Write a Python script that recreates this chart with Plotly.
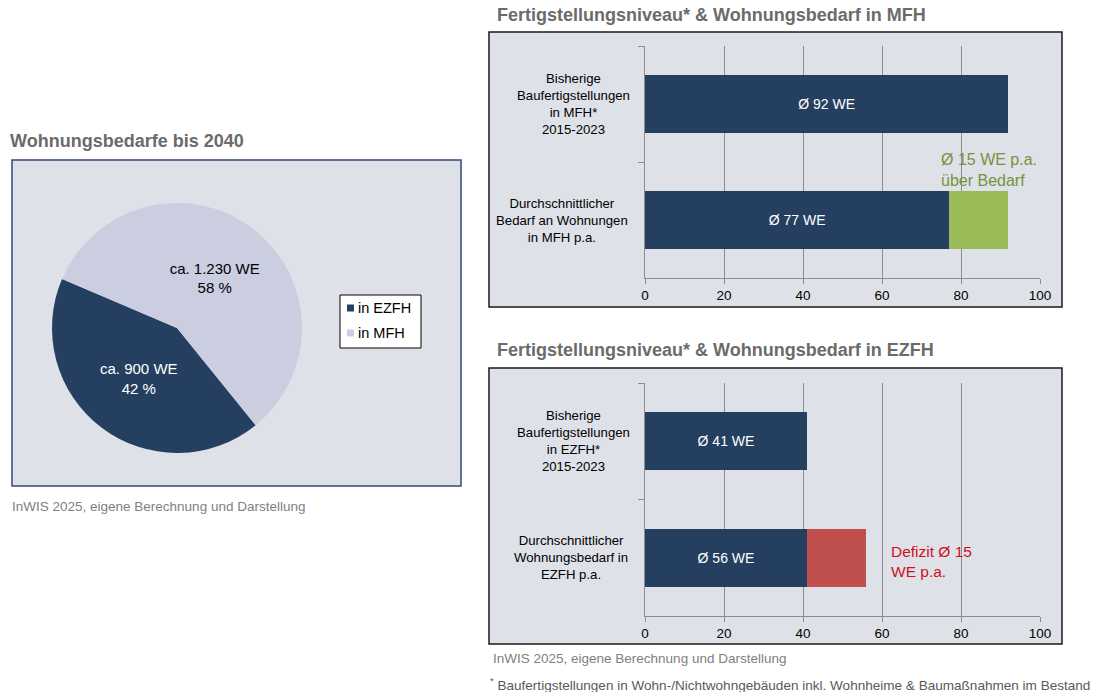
import plotly.graph_objects as go

# ---- data -------------------------------------------------------------
pie_labels = ["in EZFH", "in MFH"]
pie_values = [900, 1230]          # Wohnungsbedarf bis 2040 (WE)
pie_value_text = ["ca. 900 WE", "ca. 1.230 WE"]

bar_categories_mfh = [
    "Bisherige<br>Baufertigstellungen<br>in MFH*<br>2015-2023",
    "Durchschnittlicher<br>Bedarf an Wohnungen<br>in MFH p.a.",
]
bar_categories_ezfh = [
    "Bisherige<br>Baufertigstellungen<br>in EZFH*<br>2015-2023",
    "Durchschnittlicher<br>Wohnungsbedarf in<br>EZFH p.a.",
]
mfh_fertig = 92   # Ø Fertigstellungen MFH
mfh_bedarf = 77   # Ø Bedarf MFH
ezfh_fertig = 41  # Ø Fertigstellungen EZFH
ezfh_bedarf = 56  # Ø Bedarf EZFH

x_ticks = [0, 20, 40, 60, 80, 100]

# ---- style ------------------------------------------------------------
W, H = 1099, 692
FONT = "Arial, 'Liberation Sans', sans-serif"
NAVY = "#253f61"
LILAC = "#cbcde0"
GREEN = "#9bbb59"
RED = "#c0504d"
PANEL = "#dfe1e9"
GRID = "#8c8c8c"
PIE_COLORS = [NAVY, LILAC]


def px(x):
    return x / W


def py(y):
    return 1 - y / H


fig = go.Figure()

# ---- pie --------------------------------------------------------------
total = sum(pie_values)
pie_text = [f"{t}<br>{round(v / total * 100)} %" for t, v in zip(pie_value_text, pie_values)]
fig.add_trace(go.Pie(
    labels=pie_labels,
    values=pie_values,
    text=pie_text,
    textinfo="text",
    textposition="inside",
    insidetextorientation="horizontal",
    textfont=dict(family=FONT, size=15, color=["white", "black"]),
    marker=dict(colors=PIE_COLORS, line=dict(width=0)),
    sort=False,
    direction="clockwise",
    rotation=141,
    domain=dict(x=[px(52), px(302)], y=[py(453), py(203)]),
    hoverinfo="skip",
    showlegend=False,
))

# ---- MFH bars ---------------------------------------------------------
mfh_dark = [mfh_fertig, mfh_bedarf]
mfh_surplus = [None, mfh_fertig - mfh_bedarf]
fig.add_trace(go.Bar(
    y=bar_categories_mfh, x=mfh_dark, orientation="h",
    marker=dict(color=NAVY, line=dict(width=0)),
    text=[f"Ø {v} WE" for v in mfh_dark],
    textposition="inside", insidetextanchor="middle", textangle=0,
    constraintext="none",
    textfont=dict(family=FONT, size=14, color="white"),
    xaxis="x", yaxis="y", showlegend=False, hoverinfo="skip",
))
fig.add_trace(go.Bar(
    y=bar_categories_mfh, x=mfh_surplus, orientation="h",
    marker=dict(color=GREEN, line=dict(width=0)),
    xaxis="x", yaxis="y", showlegend=False, hoverinfo="skip",
))

# ---- EZFH bars --------------------------------------------------------
ezfh_dark = [ezfh_fertig, min(ezfh_fertig, ezfh_bedarf)]
ezfh_deficit = [None, ezfh_bedarf - ezfh_fertig]
fig.add_trace(go.Bar(
    y=bar_categories_ezfh, x=ezfh_dark, orientation="h",
    marker=dict(color=NAVY, line=dict(width=0)),
    text=[f"Ø {v} WE" for v in [ezfh_fertig, ezfh_bedarf]],
    textposition="inside", insidetextanchor="middle", textangle=0,
    constraintext="none",
    textfont=dict(family=FONT, size=14, color="white"),
    xaxis="x2", yaxis="y2", showlegend=False, hoverinfo="skip",
))
fig.add_trace(go.Bar(
    y=bar_categories_ezfh, x=ezfh_deficit, orientation="h",
    marker=dict(color=RED, line=dict(width=0)),
    xaxis="x2", yaxis="y2", showlegend=False, hoverinfo="skip",
))

# ---- axes -------------------------------------------------------------
xaxis_style = dict(
    range=[0, 100], tickvals=x_ticks, showgrid=True, gridcolor=GRID, gridwidth=1,
    showline=True, linecolor=GRID, linewidth=1, ticks="outside", ticklen=5,
    tickcolor=GRID, tickfont=dict(family=FONT, size=13.5, color="black"),
    zeroline=False, fixedrange=True, automargin=False,
)
yaxis_style = dict(
    type="category", range=[1.5, -0.5], showticklabels=False, showgrid=False,
    showline=True, linecolor=GRID, linewidth=1, ticks="outside", ticklen=6,
    tickcolor=GRID, tickson="boundaries", zeroline=False, fixedrange=True,
    automargin=False,
)

fig.update_layout(
    template="none",
    width=W, height=H, autosize=False,
    margin=dict(l=0, r=0, t=0, b=0, pad=0, autoexpand=False),
    paper_bgcolor="white", plot_bgcolor="white",
    barmode="stack", bargap=0.5,
    font=dict(family=FONT, color="black"),
    showlegend=False,
    xaxis=dict(domain=[px(645), px(1040)], anchor="y", **xaxis_style),
    yaxis=dict(domain=[py(278), py(46)], anchor="x", **yaxis_style),
    xaxis2=dict(domain=[px(645), px(1040)], anchor="y2", **xaxis_style),
    yaxis2=dict(domain=[py(616), py(383)], anchor="x2", **yaxis_style),
)

# ---- panels and pie legend box -----------------------------------------
shapes = [
    dict(type="rect", xref="paper", yref="paper", layer="below",
         x0=px(12), x1=px(461), y0=py(486), y1=py(160),
         fillcolor=PANEL, line=dict(color="#34497a", width=1.5)),
    dict(type="rect", xref="paper", yref="paper", layer="below",
         x0=px(489), x1=px(1062), y0=py(307), y1=py(32),
         fillcolor=PANEL, line=dict(color="#1a1a1a", width=1.5)),
    dict(type="rect", xref="paper", yref="paper", layer="below",
         x0=px(489), x1=px(1062), y0=py(644), y1=py(368),
         fillcolor=PANEL, line=dict(color="#1a1a1a", width=1.5)),
    dict(type="rect", xref="paper", yref="paper", layer="above",
         x0=px(340), x1=px(421), y0=py(348), y1=py(295),
         fillcolor="white", line=dict(color="black", width=1)),
]

ann = []
legend_rows = [308, 333]
for lab, col, yy in zip(pie_labels, PIE_COLORS, legend_rows):
    shapes.append(dict(type="rect", xref="paper", yref="paper", layer="above",
                       x0=px(347), x1=px(354), y0=py(yy + 3.5), y1=py(yy - 3.5),
                       fillcolor=col, line=dict(width=0)))
    ann.append(dict(text=lab, x=px(356), y=py(yy), xref="paper", yref="paper",
                    xanchor="left", yanchor="middle", showarrow=False,
                    font=dict(family=FONT, size=14.5, color="black")))
fig.update_layout(shapes=shapes)

# ---- texts ------------------------------------------------------------
TITLE_COLOR = "#6b6b6b"
ann.append(dict(text="<b>Wohnungsbedarfe bis 2040</b>", x=px(8), y=py(141),
                xref="paper", yref="paper", xanchor="left", yanchor="middle",
                showarrow=False, font=dict(family=FONT, size=18, color=TITLE_COLOR)))
ann.append(dict(text="<b>Fertigstellungsniveau* &amp; Wohnungsbedarf in MFH</b>",
                x=px(495), y=py(15), xref="paper", yref="paper",
                xanchor="left", yanchor="middle", showarrow=False,
                font=dict(family=FONT, size=18, color=TITLE_COLOR)))
ann.append(dict(text="<b>Fertigstellungsniveau* &amp; Wohnungsbedarf in EZFH</b>",
                x=px(495), y=py(350), xref="paper", yref="paper",
                xanchor="left", yanchor="middle", showarrow=False,
                font=dict(family=FONT, size=18, color=TITLE_COLOR)))

# category labels, centred to the left of the bars
for cats, yref, centers in [(bar_categories_mfh, "y", [573, 562]),
                            (bar_categories_ezfh, "y2", [573, 571])]:
    for c, cx in zip(cats, centers):
        ann.append(dict(text=c, x=px(cx), y=c, xref="paper", yref=yref,
                        xanchor="center", yanchor="middle", align="center",
                        showarrow=False, font=dict(family=FONT, size=13.2, color="black")))

ann.append(dict(text=f"Ø {mfh_fertig - mfh_bedarf} WE p.a.<br>über Bedarf",
                x=px(939), y=py(170), xref="paper", yref="paper",
                xanchor="left", yanchor="middle", align="left", showarrow=False,
                font=dict(family=FONT, size=16, color="#77933c")))
ann.append(dict(text=f"Defizit Ø {ezfh_bedarf - ezfh_fertig}<br>WE p.a.",
                x=px(889), y=py(561), xref="paper", yref="paper",
                xanchor="left", yanchor="middle", align="left", showarrow=False,
                font=dict(family=FONT, size=15.5, color="#d0101b")))

SRC = "InWIS 2025, eigene Berechnung und Darstellung"
ann.append(dict(text=SRC, x=px(10), y=py(507), xref="paper", yref="paper",
                xanchor="left", yanchor="middle", showarrow=False,
                font=dict(family=FONT, size=13.5, color="#808080")))
ann.append(dict(text=SRC, x=px(491), y=py(658), xref="paper", yref="paper",
                xanchor="left", yanchor="middle", showarrow=False,
                font=dict(family=FONT, size=13.5, color="#808080")))
ann.append(dict(text="<sup>*</sup> Baufertigstellungen in Wohn-/Nichtwohngebäuden inkl. "
                     "Wohnheime &amp; Baumaßnahmen im Bestand",
                x=px(488), y=py(684), xref="paper", yref="paper",
                xanchor="left", yanchor="middle", showarrow=False,
                font=dict(family=FONT, size=13.55, color="#595959")))

fig.update_layout(annotations=ann)

fig.write_html("out.html")
